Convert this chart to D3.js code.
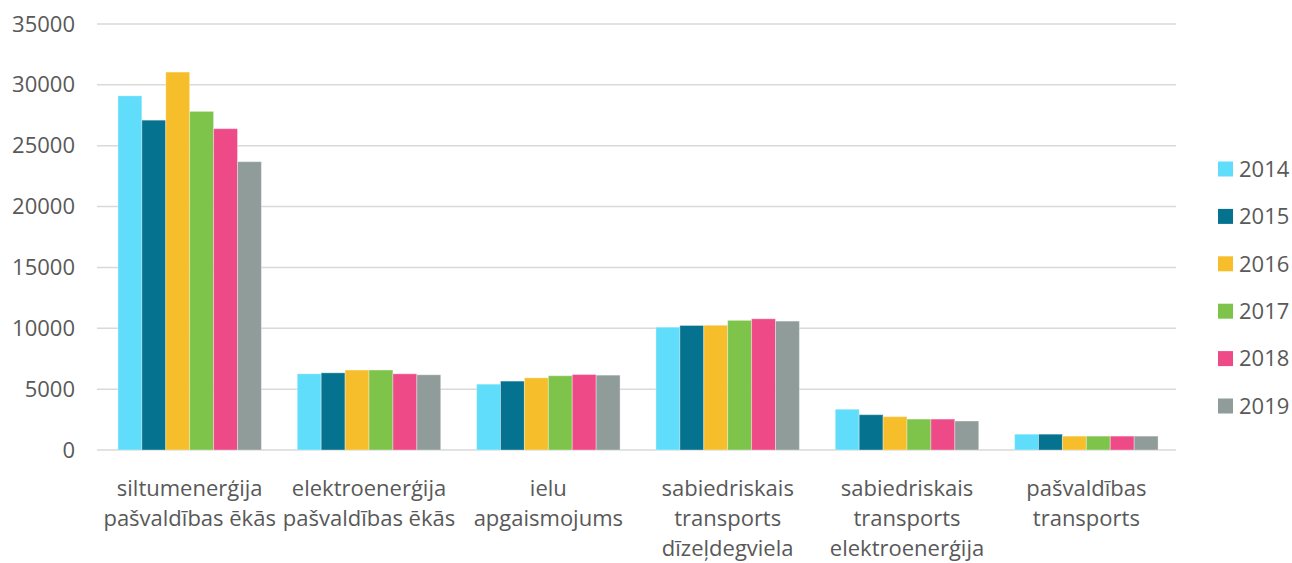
<!DOCTYPE html>
<html>
<head>
<meta charset="utf-8">
<script src="https://cdn.jsdelivr.net/npm/d3@7.9.0/dist/d3.min.js"></script>
<style>
  html, body { margin: 0; padding: 0; background: #fff; }
  svg { display: block; font-family: "Open Sans", "Noto Sans", sans-serif; }
</style>
</head>
<body>
<div id="chart"></div>
<script>
// categories (each label split into lines)
const categories = [
  ["siltumenerģija", "pašvaldības ēkās"],
  ["elektroenerģija", "pašvaldības ēkās"],
  ["ielu", "apgaismojums"],
  ["sabiedriskais", "transports", "dīzeļdegviela"],
  ["sabiedriskais", "transports", "elektroenerģija"],
  ["pašvaldības", "transports"]
];
const years = ["2014", "2015", "2016", "2017", "2018", "2019"];
const colors = ["#60DDFA", "#05738F", "#F7BE2C", "#7EC34A", "#EE4A87", "#8F9C9A"];

// values per year, in category order
const v2014 = [29100, 6260, 5410, 10090, 3350, 1300];
const v2015 = [27100, 6340, 5660, 10230, 2900, 1300];
const v2016 = [31050, 6570, 5930, 10250, 2740, 1140];
const v2017 = [27820, 6570, 6100, 10650, 2540, 1140];
const v2018 = [26400, 6260, 6200, 10780, 2540, 1140];
const v2019 = [23690, 6180, 6150, 10590, 2380, 1140];
const series = [v2014, v2015, v2016, v2017, v2018, v2019];

const yTicks = [0, 5000, 10000, 15000, 20000, 25000, 30000, 35000];

const width = 1292, height = 563;
const plot = { left: 100, right: 1176, top: 24, bottom: 450 };
const fontSize = "22px";

const svg = d3.select("#chart").append("svg")
  .attr("width", width).attr("height", height);

const x0 = d3.scaleBand()
  .domain(d3.range(categories.length))
  .range([plot.left, plot.right])
  .paddingInner(0.2)
  .paddingOuter(0.1);

const x1 = d3.scaleBand()
  .domain(d3.range(years.length))
  .range([0, x0.bandwidth()]);

const y = d3.scaleLinear()
  .domain([0, 35000])
  .range([plot.bottom, plot.top]);

// gridlines
svg.append("g").selectAll("line")
  .data(yTicks)
  .join("line")
  .attr("x1", 97).attr("x2", plot.right)
  .attr("y1", d => y(d)).attr("y2", d => y(d))
  .attr("stroke", "#d9d9d9")
  .attr("stroke-width", 1.5);

// y axis labels
const yAxis = d3.axisLeft(y).tickValues(yTicks).tickSize(0).tickPadding(0).tickFormat(d3.format("d"));
svg.append("g")
  .attr("transform", "translate(75,0)")
  .call(yAxis)
  .call(g => g.select(".domain").remove())
  .call(g => g.selectAll("text")
    .attr("fill", "#595959")
    .style("font-size", fontSize)
    .style("font-family", "'Open Sans', 'Noto Sans', sans-serif"));

// bars
const groups = svg.append("g").selectAll("g")
  .data(categories.map((c, i) => i))
  .join("g")
  .attr("transform", i => `translate(${x0(i)},0)`);

groups.selectAll("rect")
  .data(i => series.map((s, k) => ({ k, v: s[i] })))
  .join("rect")
  .attr("x", d => x1(d.k))
  .attr("width", x1.bandwidth())
  .attr("y", d => y(d.v))
  .attr("height", d => y(0) - y(d.v))
  .attr("fill", d => colors[d.k])
  .attr("stroke", "#ffffff")
  .attr("stroke-opacity", 0.35)
  .attr("stroke-width", 1);

// category labels
const labels = svg.append("g").selectAll("text")
  .data(categories)
  .join("text")
  .attr("text-anchor", "middle")
  .attr("fill", "#595959")
  .style("font-size", fontSize)
  .attr("transform", (d, i) => `translate(${x0(i) + x0.bandwidth() / 2},496)`);

labels.selectAll("tspan")
  .data(d => d)
  .join("tspan")
  .attr("x", 0)
  .attr("y", (d, j) => j * 30)
  .text(d => d);

// legend
const legend = svg.append("g").selectAll("g")
  .data(years)
  .join("g")
  .attr("transform", (d, i) => `translate(1218,${169 + i * 47.4})`);

legend.append("rect")
  .attr("x", 0).attr("y", -7.5)
  .attr("width", 15).attr("height", 15)
  .attr("fill", (d, i) => colors[i]);

legend.append("text")
  .attr("x", 21).attr("y", 0)
  .attr("dy", "0.35em")
  .attr("fill", "#595959")
  .style("font-size", fontSize)
  .text(d => d);
</script>
</body>
</html>
